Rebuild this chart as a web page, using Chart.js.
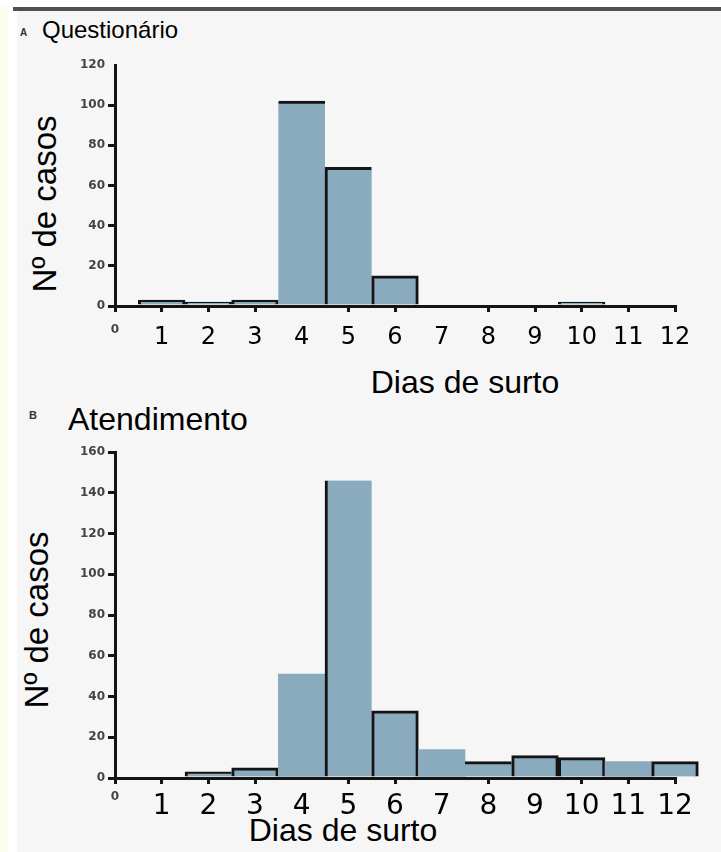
<!DOCTYPE html>
<html>
<head>
<meta charset="utf-8">
<script src="https://cdn.jsdelivr.net/npm/chart.js@4.4.0/dist/chart.umd.min.js"></script>
<style>
  html, body { margin: 0; padding: 0; }
  body { width: 721px; height: 852px; position: relative; overflow: hidden; background: #f6f6f6; font-family: "Liberation Sans", Arial, sans-serif; }
  .abs { position: absolute; white-space: nowrap; line-height: 1; color: #000; }
  canvas { position: absolute; left: 0; top: 0; }
</style>
</head>
<body>
<div class="abs" style="left:0;top:0;width:8px;height:852px;background:#fbfdee;"></div>
<div class="abs" style="left:8px;top:0;width:9px;height:852px;background:#ffffff;"></div>
<div class="abs" style="left:0;top:0;width:721px;height:7px;background:#ffffff;"></div>
<div class="abs" style="left:13px;top:7px;width:708px;height:4px;background:#505050;"></div>

<div class="abs" style="left:20px;top:28px;font-size:10px;font-weight:bold;color:#333;">A</div>
<div class="abs" style="left:42px;top:18px;font-size:24px;">Questionário</div>
<div class="abs" style="left:29px;top:410px;font-size:11px;font-weight:bold;color:#333;">B</div>
<div class="abs" style="left:68px;top:403px;font-size:32px;">Atendimento</div>

<div class="abs" style="left:265px;top:366px;width:400px;text-align:center;font-size:32px;">Dias de surto</div>
<div class="abs" style="left:143px;top:814px;width:400px;text-align:center;font-size:32px;">Dias de surto</div>

<div class="abs" style="left:44px;top:204px;font-size:33px;transform:translate(-50%,-50%) rotate(-90deg);">Nº de casos</div>
<div class="abs" style="left:36px;top:620px;font-size:33px;transform:translate(-50%,-50%) rotate(-90deg);">Nº de casos</div>

<canvas id="cA" width="721" height="852"></canvas>
<canvas id="cB" width="721" height="852"></canvas>

<script>
// Days of outbreak (x categories)
const days = [1, 2, 3, 4, 5, 6, 7, 8, 9, 10, 11, 12];
// A: Questionário — number of cases
const casesQuestionario = [3, 2, 3, 102, 69, 15, 0, 0, 0, 2, 0, 0];
// B: Atendimento — number of cases
const casesAtendimento = [0, 3, 5, 51, 146, 33, 14, 8, 11, 10, 8, 8];
// y tick labels
const yTicksA = [0, 20, 40, 60, 80, 100, 120];
const yTicksB = [0, 20, 40, 60, 80, 100, 120, 140, 160];
// x tick labels
const xTicks = [0, 1, 2, 3, 4, 5, 6, 7, 8, 9, 10, 11, 12];

const FULL = {top: 3, left: 3, right: 3, bottom: 0};
const NONE = {top: 0, left: 0, right: 0, bottom: 0};
const TOP = {top: 3, left: 0, right: 0, bottom: 0};
const LEFT = {top: 0, left: 3, right: 0, bottom: 0};
const LT = {top: 3, left: 3, right: 0, bottom: 0};
const bordersA = [FULL, FULL, FULL, TOP, LT, FULL, NONE, NONE, NONE, FULL, NONE, NONE];
const bordersB = [NONE, LT, FULL, NONE, LEFT, FULL, NONE, TOP, FULL, FULL, NONE, FULL];

function makeChart(id, values, yTicks, borders, opt) {
  const yMax = yTicks[yTicks.length - 1];
  new Chart(document.getElementById(id), {
    type: 'bar',
    data: {
      datasets: [{
        data: days.map((d, i) => ({x: d, y: values[i]})),
        backgroundColor: ctx => values[ctx.dataIndex] === 0 ? 'rgba(0,0,0,0)' : '#8aaabe',
        borderColor: ctx => values[ctx.dataIndex] === 0 ? 'rgba(0,0,0,0)' : '#141414',
        borderWidth: ctx => values[ctx.dataIndex] === 0 ? NONE : borders[ctx.dataIndex],
        borderSkipped: false,
        barPercentage: 1,
        categoryPercentage: 1,
        clip: false
      }]
    },
    options: {
      responsive: false,
      devicePixelRatio: 1,
      animation: false,
      layout: { padding: { left: 0, right: 46, top: opt.top, bottom: opt.bottom } },
      plugins: { legend: { display: false }, tooltip: { enabled: false }, title: { display: false } },
      scales: {
        x: {
          type: 'linear',
          min: 0, max: 12,
          offset: false,
          afterFit: s => { s.height = 60; },
          afterBuildTicks: s => { s.ticks = xTicks.map(v => ({value: v})); },
          ticks: {
            stepSize: 1, autoSkip: false, maxRotation: 0, minRotation: 0,
            padding: opt.xPad,
            color: ctx => (ctx.tick && ctx.tick.value === 0) ? '#444' : '#000',
            font: ctx => (ctx.tick && ctx.tick.value === 0)
              ? {family: 'DejaVu Sans', size: 12, weight: 'bold'}
              : {family: 'DejaVu Sans', size: opt.xFont}
          },
          grid: {
            offset: false,
            drawOnChartArea: false,
            drawTicks: true,
            tickLength: 6,
            lineWidth: 3,
            color: ctx => (ctx.tick && opt.hideX.includes(ctx.tick.value)) ? 'rgba(0,0,0,0)' : '#141414'
          },
          border: { display: true, color: '#141414', width: 3 }
        },
        y: {
          min: 0, max: yMax,
          afterFit: s => { s.width = 115; },
          afterBuildTicks: s => { s.ticks = yTicks.map(v => ({value: v})); },
          ticks: {
            padding: 3,
            color: '#444',
            font: {family: 'DejaVu Sans', size: 12, weight: 'bold'}
          },
          grid: {
            drawOnChartArea: false,
            drawTicks: true,
            tickLength: 7,
            lineWidth: 3,
            color: ctx => (ctx.tick && opt.hideY.includes(ctx.tick.value)) ? 'rgba(0,0,0,0)' : '#141414'
          },
          border: { display: true, color: '#141414', width: 3 }
        }
      }
    }
  });
}

makeChart('cA', casesQuestionario, yTicksA, bordersA,
  {top: 65, bottom: 852 - 306 - 60, xPad: 11, xFont: 24, hideX: [4, 7], hideY: [120]});
makeChart('cB', casesAtendimento, yTicksB, bordersB,
  {top: 452, bottom: 852 - 778 - 60, xPad: 6, xFont: 28, hideX: [4, 7, 9], hideY: []});
</script>
</body>
</html>
